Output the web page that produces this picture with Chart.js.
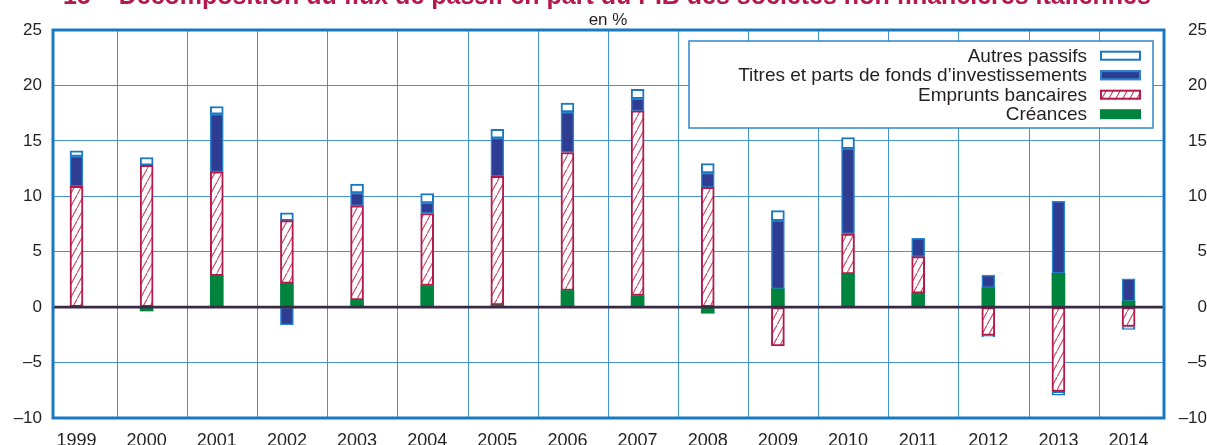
<!DOCTYPE html>
<html lang="fr">
<head>
<meta charset="utf-8">
<title>Décomposition du flux de passif</title>
<script src="https://cdn.jsdelivr.net/npm/chart.js@4.4.1/dist/chart.umd.min.js"></script>
<style>
  html, body { margin: 0; padding: 0; background: #fff; }
  #wrap { position: relative; width: 1207px; height: 445px; }
</style>
</head>
<body>
<div id="wrap"><canvas id="flux"></canvas></div>
<script>
// flux de passif des SNF, en % du PIB
const years = [1999, 2000, 2001, 2002, 2003, 2004, 2005, 2006, 2007, 2008, 2009, 2010, 2011, 2012, 2013, 2014];
const creances = [0, -0.35, 2.85, 2.15, 0.65, 1.95, 0.2, 1.5, 1.05, -0.55, 1.65, 3.0, 1.25, 1.75, 3.05, 0.55];
const emprunts = [10.9, 12.8, 9.35, 5.65, 8.5, 6.5, 11.6, 12.45, 16.65, 10.8, -3.5, 3.6, 3.3, -2.55, -7.6, -1.75];
const titres = [2.7, 0, 5.2, -1.6, 1.15, 0.95, 3.45, 3.65, 1.1, 1.3, 6.15, 7.7, 1.65, 1.15, 6.5, 2.0];
const autres = [0.5, 0.7, 0.7, 0.7, 0.8, 0.85, 0.8, 0.8, 0.85, 0.85, 0.9, 1.0, 0, -0.12, -0.35, -0.25];
const yTicks = [-10, -5, 0, 5, 10, 15, 20, 25];

const FONT = '"Liberation Sans", Arial, Helvetica, sans-serif';
const BLUE = '#1a78c2';
const GRID = '#4493d2';
const RED = '#b3194a';
const TEXT = '#231f20';

Chart.defaults.font.family = FONT;
Chart.defaults.color = TEXT;

// diagonal red hatching for the bank loans
function hatch() {
  const w = 7, h = 13;
  const c = document.createElement('canvas');
  c.width = w;
  c.height = h;
  const g = c.getContext('2d');
  g.fillStyle = '#fff';
  g.fillRect(0, 0, w, h);
  g.strokeStyle = '#c84766';
  g.lineWidth = 1.1;
  g.beginPath();
  g.moveTo(-1, h + h / w);
  g.lineTo(w + 1, -h / w);
  g.stroke();
  return g.createPattern(c, 'repeat');
}

const pts = arr => arr.map((v, i) => ({ x: years[i], y: v }));
const dash = v => (v < 0 ? '\u2013' + Math.abs(v) : String(v));

// title, unit, zero line, frame and legend
const decor = {
  id: 'decor',
  beforeDraw(chart) {
    const ctx = chart.ctx;
    ctx.save();
    ctx.fillStyle = RED;
    ctx.font = 'bold 25px ' + FONT;
    ctx.textAlign = 'center';
    ctx.textBaseline = 'alphabetic';
    ctx.fillText('15 \u2013 Décomposition du flux de passif en part du PIB des sociétés non financières italiennes', 607, 4);
    ctx.fillStyle = TEXT;
    ctx.font = '17px ' + FONT;
    ctx.fillText('en %', 608, 25);
    ctx.restore();
  },
  afterDatasetsDraw(chart) {
    const { ctx, chartArea: a, scales } = chart;
    const y0 = scales.y.getPixelForValue(0);
    ctx.save();
    ctx.strokeStyle = '#3a2b44';
    ctx.lineWidth = 2.6;
    ctx.beginPath();
    ctx.moveTo(a.left, y0);
    ctx.lineTo(a.right, y0);
    ctx.stroke();
    ctx.restore();
  },
  afterDraw(chart) {
    const { ctx, chartArea: a } = chart;
    ctx.save();
    ctx.strokeStyle = BLUE;
    ctx.lineWidth = 3;
    ctx.strokeRect(a.left, a.top, a.right - a.left, a.bottom - a.top);

    // legend box
    ctx.fillStyle = '#fff';
    ctx.fillRect(689, 41, 464, 87);
    ctx.strokeStyle = '#2f86c8';
    ctx.lineWidth = 1.5;
    ctx.strokeRect(689, 41, 464, 87);

    ctx.font = '19px ' + FONT;
    ctx.textAlign = 'right';
    ctx.textBaseline = 'alphabetic';
    const sets = chart.data.datasets.slice().reverse();
    sets.forEach((ds, i) => {
      const base = 61.7 + i * 19.5;
      ctx.fillStyle = TEXT;
      ctx.fillText(ds.label, 1087, base);
      const bw = ds.borderWidth || 0;
      ctx.fillStyle = ds.backgroundColor;
      ctx.fillRect(1100, base - 11, 41, 10);
      if (bw) {
        ctx.strokeStyle = ds.borderColor;
        ctx.lineWidth = 2;
        ctx.strokeRect(1101, base - 10, 39, 8);
      }
    });
    ctx.restore();
  }
};

new Chart(document.getElementById('flux'), {
  type: 'bar',
  data: {
    datasets: [
      {
        label: 'Créances',
        data: pts(creances),
        backgroundColor: '#00843d',
        borderWidth: 0,
      },
      {
        label: 'Emprunts bancaires',
        data: pts(emprunts),
        backgroundColor: hatch(),
        borderColor: RED,
        borderWidth: 2,
        borderSkipped: false,
      },
      {
        label: 'Titres et parts de fonds d\u2019investissements',
        data: pts(titres),
        backgroundColor: '#2e3d91',
        borderColor: '#2a86d0',
        borderWidth: 1.5,
        borderSkipped: false,
      },
      {
        label: 'Autres passifs',
        data: pts(autres),
        backgroundColor: '#ffffff',
        borderColor: BLUE,
        borderWidth: 2,
        borderSkipped: false,
      },
    ],
  },
  options: {
    responsive: true,
    maintainAspectRatio: false,
    animation: false,
    barThickness: 13,
    layout: { padding: { top: 30, left: 0, right: 0, bottom: 0 } },
    plugins: {
      legend: { display: false },
      tooltip: { enabled: false },
    },
    scales: {
      x: {
        type: 'linear',
        min: years[0] - 0.335,
        max: years[years.length - 1] + 0.505,
        offset: false,
        stacked: true,
        grid: { display: false, offset: false },
        border: { display: false },
        ticks: {
          padding: 4,
          autoSkip: false,
          maxRotation: 0,
          color: TEXT,
          font: { size: 18 },
          callback: v => String(v),
        },
        afterBuildTicks: s => { s.ticks = years.map(v => ({ value: v })); },
        afterFit: s => { s.height = 27; },
      },
      xg: {
        type: 'linear',
        position: 'top',
        min: years[0] - 0.335,
        max: years[years.length - 1] + 0.505,
        offset: false,
        grid: { color: GRID, lineWidth: 1, drawTicks: false, offset: false },
        border: { display: false },
        ticks: { display: false },
        afterBuildTicks: s => { s.ticks = years.slice(0, -1).map(v => ({ value: v + 0.582 })); },
        afterFit: s => { s.height = 0; },
      },
      y: {
        position: 'left',
        min: -10,
        max: 25,
        stacked: true,
        grid: { color: GRID, lineWidth: 1, drawTicks: false },
        border: { display: false },
        ticks: { padding: 11, color: TEXT, font: { size: 17 }, callback: dash },
        afterBuildTicks: s => { s.ticks = yTicks.map(v => ({ value: v })); },
        afterFit: s => { s.width = 53; },
      },
      y2: {
        position: 'right',
        min: -10,
        max: 25,
        grid: { display: false, drawTicks: false },
        border: { display: false },
        ticks: { padding: 12, crossAlign: 'far', color: TEXT, font: { size: 17 }, callback: dash },
        afterBuildTicks: s => { s.ticks = yTicks.map(v => ({ value: v })); },
        afterFit: s => { s.width = 43; },
      },
    },
  },
  plugins: [decor],
});
</script>
</body>
</html>
